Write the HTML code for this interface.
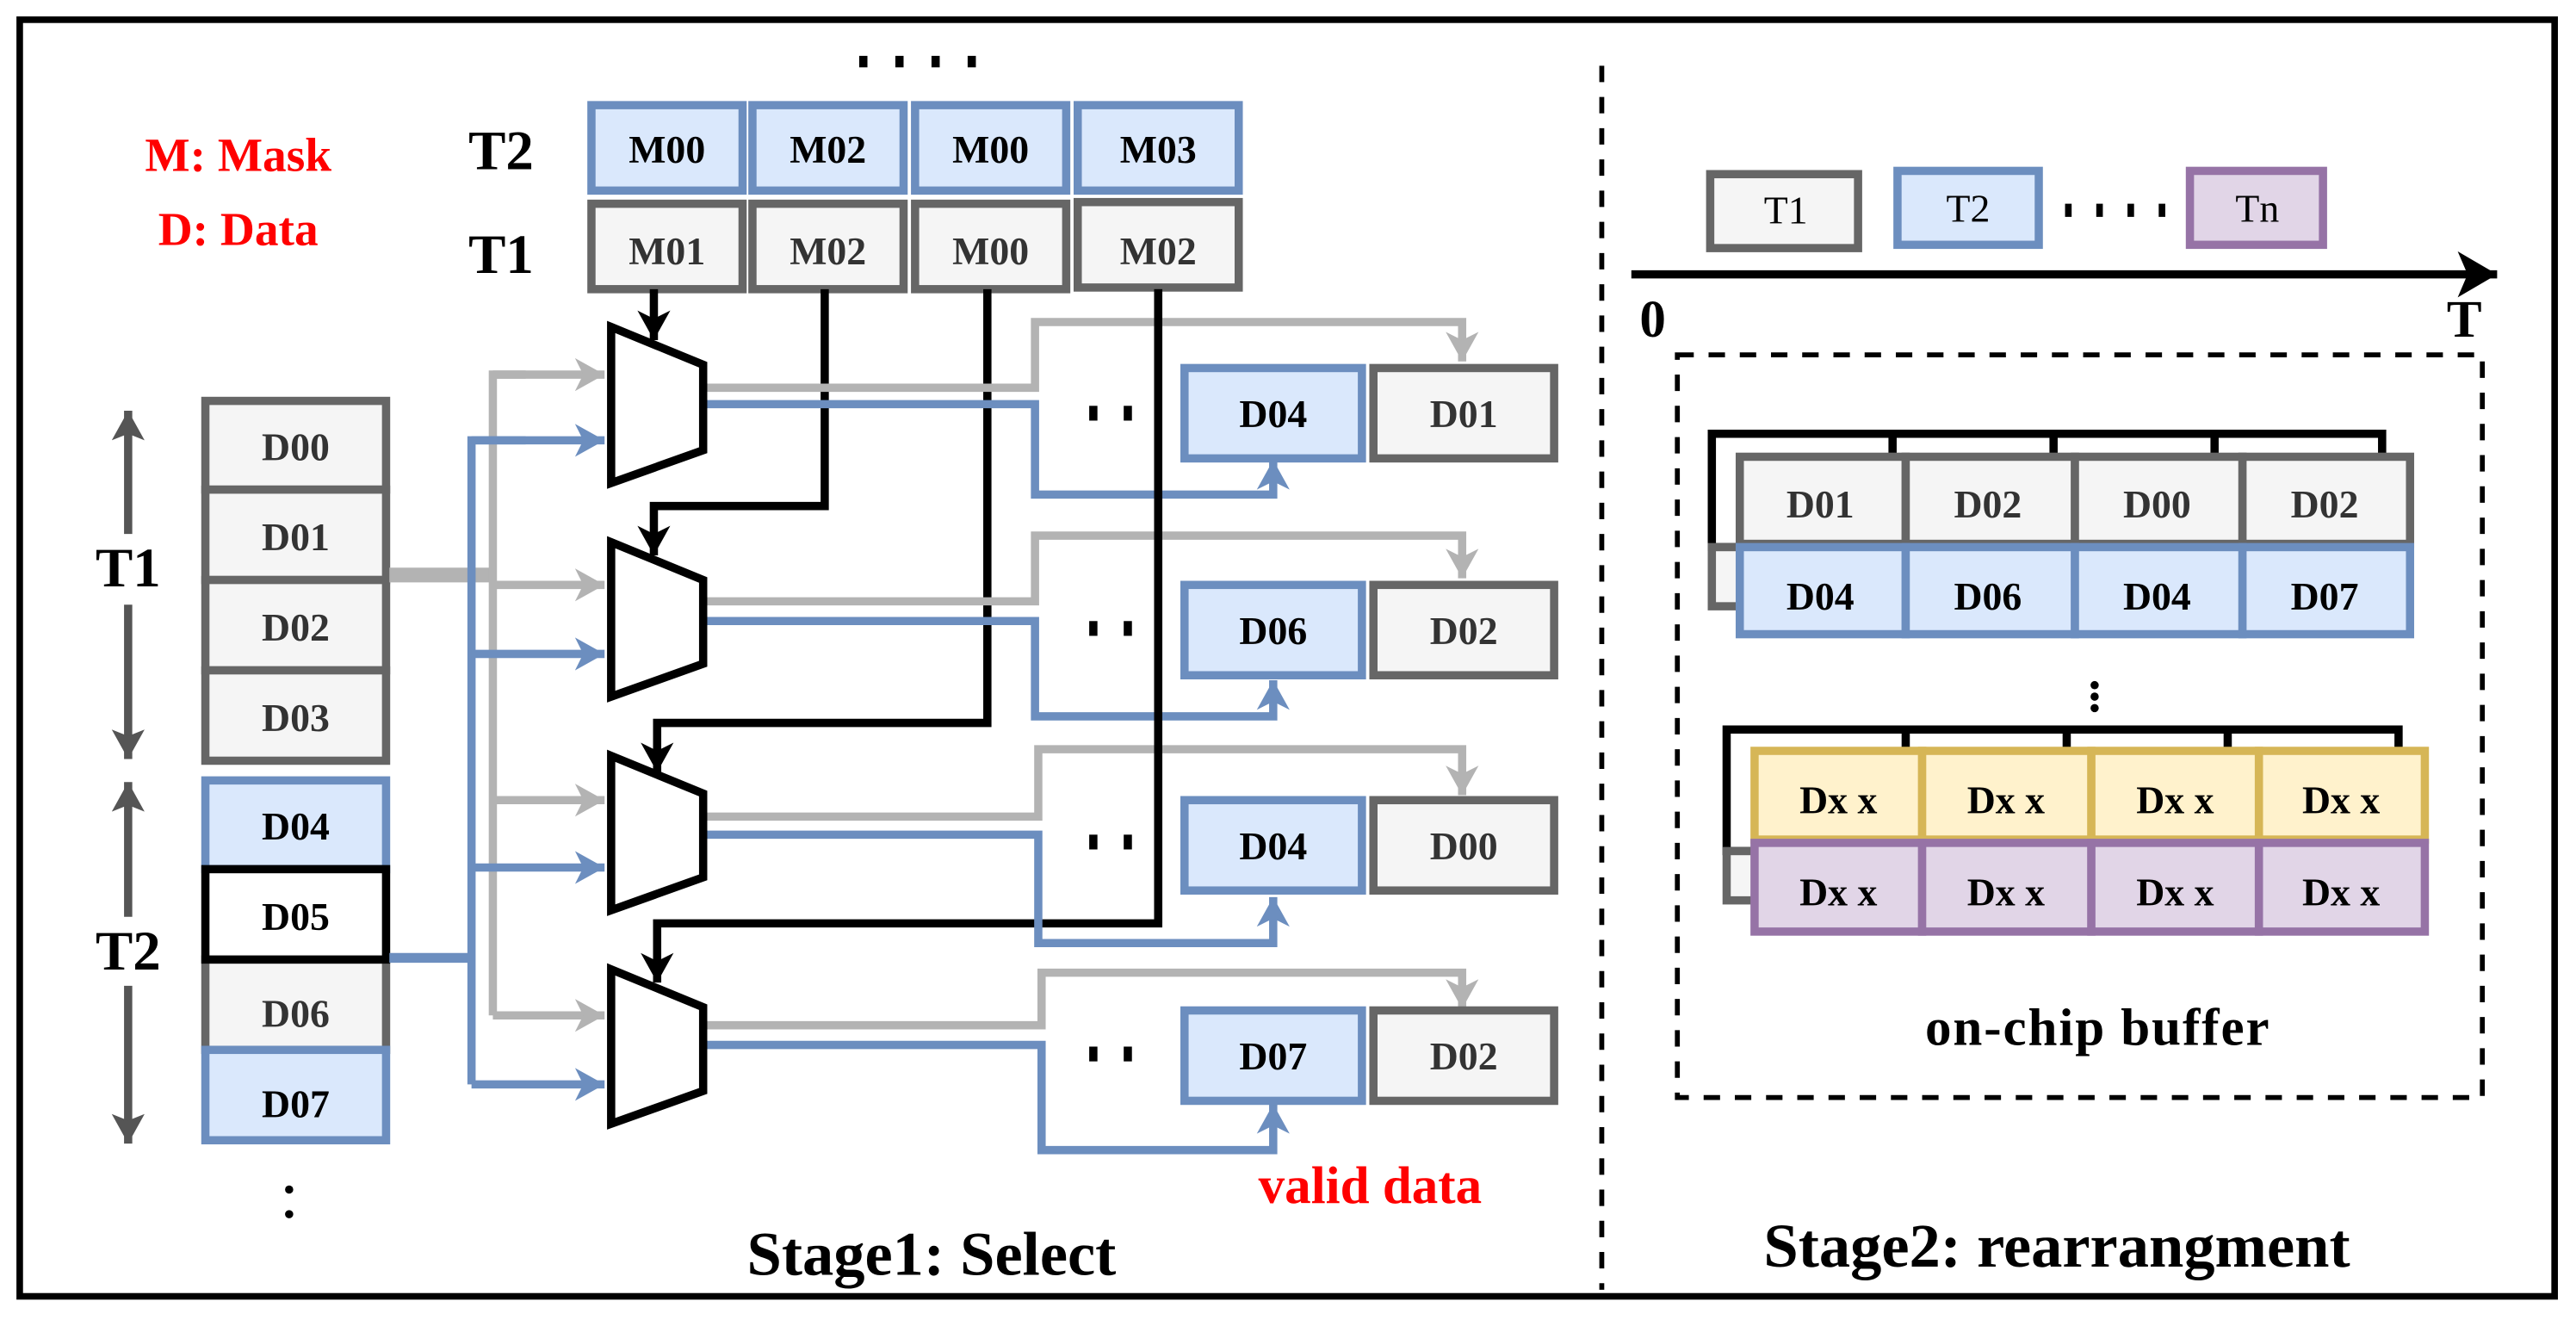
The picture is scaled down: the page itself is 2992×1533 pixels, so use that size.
<!DOCTYPE html>
<html><head><meta charset="utf-8"><style>html,body{margin:0;padding:0;background:#fff}svg{display:block}
</style></head><body>
<svg width="2992" height="1533" viewBox="0 0 1568 803.4" xmlns="http://www.w3.org/2000/svg" font-family="'Liberation Serif', serif" font-weight="bold">
<defs>
<marker id="ag" markerUnits="userSpaceOnUse" markerWidth="24" markerHeight="24" refX="18" refY="10" orient="auto"><path d="M0,0 L18,10 L0,20 L5,10 Z" fill="#b3b3b3"/></marker>
<marker id="ab" markerUnits="userSpaceOnUse" markerWidth="24" markerHeight="24" refX="18" refY="10" orient="auto"><path d="M0,0 L18,10 L0,20 L5,10 Z" fill="#6c8ebf"/></marker>
<marker id="ak" markerUnits="userSpaceOnUse" markerWidth="24" markerHeight="24" refX="18" refY="10" orient="auto"><path d="M0,0 L18,10 L0,20 L5,10 Z" fill="#000"/></marker>
<marker id="ad" markerUnits="userSpaceOnUse" markerWidth="24" markerHeight="24" refX="18" refY="10" orient="auto"><path d="M0,0 L18,10 L0,20 L4,10 Z" fill="#555"/></marker>
<marker id="ax" markerUnits="userSpaceOnUse" markerWidth="30" markerHeight="30" refX="24" refY="14" orient="auto"><path d="M0,0 L24,14 L0,28 L6,14 Z" fill="#000"/></marker>
</defs>
<rect x="12" y="12" width="1543" height="777" fill="#fff" stroke="#000" stroke-width="4"/>
<line x1="975" y1="40" x2="975" y2="785" stroke="#000" stroke-width="3" stroke-dasharray="10,9"/>

<text x="145" y="104" font-size="29" fill="#f00" text-anchor="middle">M: Mask</text>
<text x="145" y="149" font-size="29" fill="#f00" text-anchor="middle">D: Data</text>
<text x="305" y="103" font-size="34" text-anchor="middle">T2</text>
<text x="305" y="166" font-size="34" text-anchor="middle">T1</text>
<g fill="#000"><rect x="523" y="34" width="5" height="7"/><rect x="545" y="34" width="5" height="7"/><rect x="567" y="34" width="5" height="7"/><rect x="589" y="34" width="5" height="7"/></g>

<g stroke-width="5">
<g fill="#dae8fc" stroke="#6c8ebf">
<rect x="360" y="64" width="92" height="52"/><rect x="458" y="64" width="92" height="52"/><rect x="557" y="64" width="92" height="52"/><rect x="656" y="64" width="98" height="52"/>
</g>
<g fill="#f5f5f5" stroke="#666">
<rect x="360" y="124" width="92" height="52"/><rect x="458" y="124" width="92" height="52"/><rect x="557" y="124" width="92" height="52"/><rect x="656" y="123" width="98" height="52"/>
</g>
</g>
<g font-size="24" text-anchor="middle">
<text x="406" y="99">M00</text><text x="504" y="99">M02</text><text x="603" y="99">M00</text><text x="705" y="99">M03</text>
<g fill="#333"><text x="406" y="161">M01</text><text x="504" y="161">M02</text><text x="603" y="161">M00</text><text x="705" y="161">M02</text></g>
</g>

<!-- D column -->
<g stroke-width="5">
<g fill="#f5f5f5" stroke="#666">
<rect x="125" y="244" width="110" height="54"/><rect x="125" y="298" width="110" height="55"/><rect x="125" y="353" width="110" height="55"/><rect x="125" y="408" width="110" height="55"/>
<rect x="125" y="584" width="110" height="55"/>
</g>
<rect x="125" y="475" width="110" height="54" fill="#dae8fc" stroke="#6c8ebf"/>
<rect x="125" y="529" width="110" height="55" fill="#fff" stroke="#000"/>
<rect x="125" y="639" width="110" height="55" fill="#dae8fc" stroke="#6c8ebf"/>
</g>
<g font-size="24" text-anchor="middle">
<g fill="#333"><text x="180" y="280">D00</text><text x="180" y="335">D01</text><text x="180" y="390">D02</text><text x="180" y="445">D03</text><text x="180" y="625">D06</text></g>
<text x="180" y="511">D04</text><text x="180" y="566">D05</text><text x="180" y="680">D07</text>
</g>
<g fill="#000"><circle cx="176" cy="724" r="2.5"/><circle cx="176" cy="739" r="2.5"/></g>

<!-- vertical double arrows -->
<g stroke="#555" stroke-width="5">
<line x1="78" y1="325" x2="78" y2="250" marker-end="url(#ad)"/><line x1="78" y1="368" x2="78" y2="462" marker-end="url(#ad)"/>
<line x1="78" y1="558" x2="78" y2="476" marker-end="url(#ad)"/><line x1="78" y1="600" x2="78" y2="696" marker-end="url(#ad)"/>
</g>
<text x="78" y="357" font-size="34" text-anchor="middle">T1</text>
<text x="78" y="590" font-size="34" text-anchor="middle">T2</text>

<!-- input buses -->
<line x1="237" y1="350" x2="300" y2="350" stroke="#b3b3b3" stroke-width="9"/>
<line x1="237" y1="583" x2="287" y2="583" stroke="#6c8ebf" stroke-width="6"/>
<g fill="none" stroke="#b3b3b3" stroke-width="5">
<polyline points="320,228 300,228 300,618"/>
<line x1="300" y1="228" x2="368" y2="228" marker-end="url(#ag)"/>
<line x1="300" y1="356" x2="368" y2="356" marker-end="url(#ag)"/>
<line x1="300" y1="487" x2="368" y2="487" marker-end="url(#ag)"/>
<line x1="300" y1="618" x2="368" y2="618" marker-end="url(#ag)"/>
</g>
<g fill="none" stroke="#6c8ebf" stroke-width="5">
<polyline points="320,268 287,268 287,660"/>
<line x1="287" y1="268" x2="368" y2="268" marker-end="url(#ab)"/>
<line x1="287" y1="398" x2="368" y2="398" marker-end="url(#ab)"/>
<line x1="287" y1="528" x2="368" y2="528" marker-end="url(#ab)"/>
<line x1="287" y1="660" x2="368" y2="660" marker-end="url(#ab)"/>
</g>

<!-- control lines -->
<g fill="none" stroke="#000" stroke-width="5">
<line x1="398" y1="176" x2="398" y2="207" marker-end="url(#ak)"/>
<polyline points="502,176 502,308 398,308 398,338" marker-end="url(#ak)"/>
<polyline points="601,176 601,440 400,440 400,470" marker-end="url(#ak)"/>
<polyline points="705,176 705,562 400,562 400,598" marker-end="url(#ak)"/>
</g>

<!-- outputs rows -->
<g fill="none" stroke-width="5">
<g stroke="#b3b3b3">
<polyline points="428,236 630,236 630,196 890,196 890,220" marker-end="url(#ag)"/>
<polyline points="428,366 630,366 630,326 890,326 890,352" marker-end="url(#ag)"/>
<polyline points="428,497 632,497 632,456 890,456 890,484" marker-end="url(#ag)"/>
<polyline points="428,624 634,624 634,592 890,592 890,614" marker-end="url(#ag)"/>
</g>
<g stroke="#6c8ebf">
<polyline points="428,246 630,246 630,301 775,301 775,280" marker-end="url(#ab)"/>
<polyline points="428,378 630,378 630,436 775,436 775,414" marker-end="url(#ab)"/>
<polyline points="428,508 632,508 632,574 775,574 775,546" marker-end="url(#ab)"/>
<polyline points="428,636 634,636 634,700 775,700 775,672" marker-end="url(#ab)"/>
</g>
</g>
<line x1="705" y1="176" x2="705" y2="562" stroke="#000" stroke-width="5"/>

<!-- muxes -->
<g fill="#fff" stroke="#000" stroke-width="5" stroke-linejoin="miter">
<polygon points="372,199 428,222 428,274 372,294"/>
<polygon points="372,330 428,353 428,404 372,424"/>
<polygon points="372,460 428,483 428,534 372,554"/>
<polygon points="372,590 428,613 428,664 372,684"/>
</g>

<!-- output boxes -->
<g stroke-width="5">
<g fill="#dae8fc" stroke="#6c8ebf">
<rect x="721" y="224" width="108" height="55"/><rect x="721" y="356" width="108" height="55"/><rect x="721" y="487" width="108" height="55"/><rect x="721" y="615" width="108" height="55"/>
</g>
<g fill="#f5f5f5" stroke="#666">
<rect x="836" y="224" width="110" height="55"/><rect x="836" y="356" width="110" height="55"/><rect x="836" y="487" width="110" height="55"/><rect x="836" y="615" width="110" height="55"/>
</g>
</g>
<g font-size="24" text-anchor="middle">
<text x="775" y="260">D04</text><text x="775" y="392">D06</text><text x="775" y="523">D04</text><text x="775" y="651">D07</text>
<g fill="#333"><text x="891" y="260">D01</text><text x="891" y="392">D02</text><text x="891" y="523">D00</text><text x="891" y="651">D02</text></g>
</g>
<g fill="#000">
<rect x="663" y="247" width="5" height="9"/><rect x="684" y="247" width="5" height="9"/>
<rect x="663" y="378" width="5" height="9"/><rect x="684" y="378" width="5" height="9"/>
<rect x="663" y="508" width="5" height="9"/><rect x="684" y="508" width="5" height="9"/>
<rect x="663" y="637" width="5" height="9"/><rect x="684" y="637" width="5" height="9"/>
</g>

<text x="834" y="732" font-size="32" fill="#f00" text-anchor="middle">valid data</text>
<text x="567" y="776" font-size="38" text-anchor="middle">Stage1: Select</text>
<text x="1252" y="771" font-size="38" text-anchor="middle">Stage2: rearrangment</text>

<!-- stage 2 timeline -->
<g stroke-width="5">
<rect x="1041" y="106" width="90" height="45" fill="#f5f5f5" stroke="#666"/>
<rect x="1155" y="104" width="86" height="45" fill="#dae8fc" stroke="#6c8ebf"/>
<rect x="1333" y="104" width="81" height="45" fill="#e1d5e7" stroke="#9673a6"/>
</g>
<g font-size="24" text-anchor="middle" font-weight="normal"><text x="1087" y="136">T1</text><text x="1198" y="135">T2</text><text x="1374" y="135">Tn</text></g>
<g fill="#000"><rect x="1257" y="124" width="4" height="8"/><rect x="1276" y="124" width="4" height="8"/><rect x="1295" y="124" width="4" height="8"/><rect x="1314" y="124" width="4" height="8"/></g>
<line x1="993" y1="167" x2="1520" y2="167" stroke="#000" stroke-width="5" marker-end="url(#ax)"/>
<text x="1006" y="205" font-size="32" text-anchor="middle">0</text>
<text x="1500" y="205" font-size="32" text-anchor="middle">T</text>
<rect x="1021" y="216" width="490" height="452" fill="none" stroke="#000" stroke-width="3" stroke-dasharray="10,9"/>

<!-- buffer 1 -->
<g fill="none" stroke="#000" stroke-width="5">
<polyline points="1062,333 1042,333 1042,264 1450,264 1450,278"/>
<line x1="1152" y1="264" x2="1152" y2="278"/><line x1="1250" y1="264" x2="1250" y2="278"/><line x1="1348" y1="264" x2="1348" y2="278"/>
</g>
<rect x="1042" y="333" width="20" height="36" fill="#f5f5f5" stroke="#666" stroke-width="5"/>
<g stroke-width="5">
<g fill="#f5f5f5" stroke="#666"><rect x="1059" y="278" width="101" height="53"/><rect x="1160" y="278" width="103" height="53"/><rect x="1263" y="278" width="102" height="53"/><rect x="1365" y="278" width="102" height="53"/></g>
<g fill="#dae8fc" stroke="#6c8ebf"><rect x="1059" y="333" width="101" height="53"/><rect x="1160" y="333" width="103" height="53"/><rect x="1263" y="333" width="102" height="53"/><rect x="1365" y="333" width="102" height="53"/></g>
</g>
<g font-size="24" text-anchor="middle">
<g fill="#333"><text x="1108" y="315">D01</text><text x="1210" y="315">D02</text><text x="1313" y="315">D00</text><text x="1415" y="315">D02</text></g>
<text x="1108" y="371">D04</text><text x="1210" y="371">D06</text><text x="1313" y="371">D04</text><text x="1415" y="371">D07</text>
</g>
<g fill="#000"><circle cx="1275" cy="417" r="2.5"/><circle cx="1275" cy="424" r="2.5"/><circle cx="1275" cy="431" r="2.5"/></g>

<!-- buffer 2 -->
<g fill="none" stroke="#000" stroke-width="5">
<polyline points="1068,518 1051,518 1051,444 1460,444 1460,458"/>
<line x1="1160" y1="444" x2="1160" y2="458"/><line x1="1258" y1="444" x2="1258" y2="458"/><line x1="1356" y1="444" x2="1356" y2="458"/>
</g>
<rect x="1051" y="518" width="20" height="30" fill="#f5f5f5" stroke="#666" stroke-width="5"/>
<g stroke-width="5">
<g fill="#fff2cc" stroke="#d6b656"><rect x="1068" y="457" width="102" height="54"/><rect x="1170" y="457" width="103" height="54"/><rect x="1273" y="457" width="102" height="54"/><rect x="1375" y="457" width="101" height="54"/></g>
<g fill="#e1d5e7" stroke="#9673a6"><rect x="1068" y="513" width="102" height="54"/><rect x="1170" y="513" width="103" height="54"/><rect x="1273" y="513" width="102" height="54"/><rect x="1375" y="513" width="101" height="54"/></g>
</g>
<g font-size="24" text-anchor="middle">
<text x="1119" y="495">Dx x</text><text x="1221" y="495">Dx x</text><text x="1324" y="495">Dx x</text><text x="1425" y="495">Dx x</text>
<text x="1119" y="551">Dx x</text><text x="1221" y="551">Dx x</text><text x="1324" y="551">Dx x</text><text x="1425" y="551">Dx x</text>
</g>
<text x="1277" y="636" font-size="32" text-anchor="middle" letter-spacing="1">on-chip buffer</text>
</svg>
</body></html>
